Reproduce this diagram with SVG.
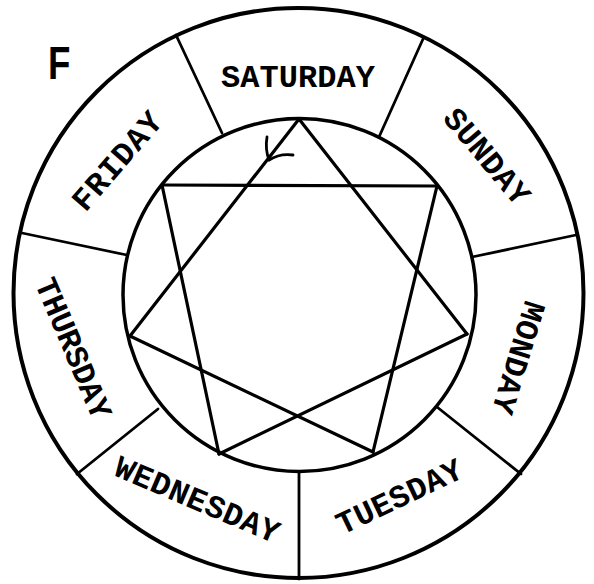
<svg xmlns="http://www.w3.org/2000/svg" width="594" height="584" viewBox="0 0 594 584">
  <style>
    .ln { fill: none; stroke: #000; stroke-linecap: round; stroke-linejoin: round; }
    .day { font-family: "Liberation Mono", "DejaVu Sans Mono", monospace; font-weight: bold; font-size: 32px; fill: #000; text-anchor: middle; }
    .big { font-family: "Liberation Sans", Arial, sans-serif; font-weight: bold; font-size: 47px; fill: #000; }
  </style>
  <rect width="594" height="584" fill="#fff"/>
  <g id="rings">
    <circle class="ln" cx="298.5" cy="293" r="285" stroke-width="4"/>
    <circle class="ln" cx="299.5" cy="295" r="176.5" stroke-width="3.5"/>
  </g>
  <g id="connectors">
    <g id="dividers" class="ln" stroke-width="2.8">
      <line x1="176" y1="35" x2="222" y2="133"/>
      <line x1="423" y1="39" x2="379" y2="137"/>
      <line x1="576" y1="235" x2="472" y2="257"/>
      <line x1="521" y1="474" x2="437" y2="407"/>
      <line x1="299" y1="579" x2="299" y2="472"/>
      <line x1="77" y1="474" x2="158" y2="409"/>
      <line x1="22" y1="233" x2="127" y2="255"/>
    </g>
    <g id="heptagram" class="ln" stroke-width="3.2">
      <line x1="299" y1="119" x2="467" y2="334"/>
      <line x1="467" y1="334" x2="219" y2="454"/>
      <line x1="219" y1="454" x2="162" y2="185"/>
      <line x1="162" y1="185" x2="437" y2="186"/>
      <line x1="437" y1="186" x2="373" y2="452"/>
      <line x1="373" y1="452" x2="130" y2="336"/>
      <line x1="130" y1="336" x2="299" y2="119"/>
    </g>
    <g id="arrow-mark" class="ln" stroke-width="2.8">
      <path d="M269 160 Q265 149 267 137"/>
      <path d="M269 160 Q280 153 293 155"/>
    </g>
  </g>
  <g id="label-F">
    <text class="big" transform="translate(48,79) scale(0.78,1)">F</text>
  </g>
  <g id="saturday">
    <text class="day" transform="translate(298,76)" y="11" textLength="154" lengthAdjust="spacing">SATURDAY</text>
  </g>
  <g id="sunday">
    <text class="day" transform="translate(487.5,156) rotate(50)" y="11" textLength="116" lengthAdjust="spacing">SUNDAY</text>
  </g>
  <g id="monday">
    <text class="day" transform="translate(519,358) rotate(107)" y="11" textLength="116" lengthAdjust="spacing">MONDAY</text>
  </g>
  <g id="tuesday">
    <text class="day" transform="translate(399,496) rotate(-25.5)" y="11" textLength="136" lengthAdjust="spacing">TUESDAY</text>
  </g>
  <g id="wednesday">
    <text class="day" transform="translate(197.5,499) rotate(23)" y="11" textLength="176" lengthAdjust="spacing">WEDNESDAY</text>
  </g>
  <g id="thursday">
    <text class="day" transform="translate(74,348) rotate(67)" y="11" textLength="150" lengthAdjust="spacing">THURSDAY</text>
  </g>
  <g id="friday">
    <text class="day" transform="translate(116.5,160.5) rotate(-49)" y="11" textLength="120" lengthAdjust="spacing">FRIDAY</text>
  </g>
</svg>
